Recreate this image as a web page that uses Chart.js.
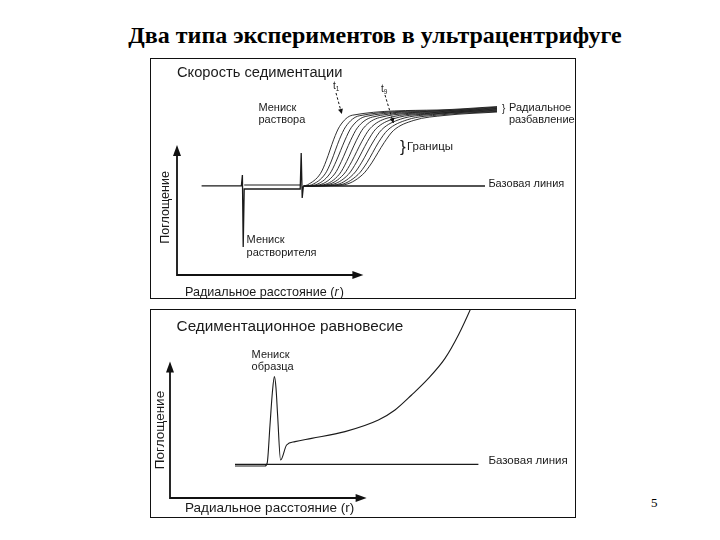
<!DOCTYPE html>
<html lang="ru">
<head>
<meta charset="utf-8">
<title>Два типа экспериментов в ультрацентрифуге</title>
<script src="https://cdn.jsdelivr.net/npm/chart.js@4.4.1/dist/chart.umd.min.js"></script>
<style>
  html, body { margin: 0; padding: 0; background: #fff; }
  body { width: 720px; height: 540px; position: relative; overflow: hidden; }
  #title { position: absolute; left: 0; width: 750px; top: 22px; text-align: center;
           font: bold 24px "Liberation Serif", "Times New Roman", serif; color: #000; }
  #pageNum { position: absolute; left: 651px; top: 495px; font: 13px "Liberation Serif", serif; color: #000; }
  #rateChart { position: absolute; left: 150px; top: 58px; }
  #eqChart { position: absolute; left: 150px; top: 309px; }
</style>
</head>
<body>
<div id="title">Два типа экспериментов в ультрацентрифуге</div>
<canvas id="rateChart" width="426" height="241"></canvas>
<canvas id="eqChart" width="426" height="209"></canvas>
<div id="pageNum">5</div>

<script>
// ---- Скорость седиментации (arbitrary units: radial distance r, absorbance A) ----

// one scan with solvent meniscus and solution meniscus
const scanR = [1.23, 3.22, 3.27, 3.31, 3.36, 6.16, 6.21, 6.26, 6.32];
const scanA = [4.46, 4.47, 5.0, 1.4, 4.30, 4.30, 6.1, 3.85, 4.45];
// second (upper) trace between the menisci
const scanUpperR = [3.36, 6.16];
const scanUpperA = [4.50, 4.50];
// baseline
const rateBaseR = [6.3, 15.4];
const rateBaseA = [4.45, 4.45];

// boundary scans t1 ... t10 (start, rise, plateau with radial dilution)
const boundaryR = [
  [6.35, 6.53, 7.17, 7.46, 7.65, 7.84, 8.13, 8.77, 13.0, 16.0],
  [6.35, 6.73, 7.41, 7.72, 7.92, 8.12, 8.43, 9.11, 13.0, 16.0],
  [6.35, 6.92, 7.64, 7.96, 8.18, 8.40, 8.72, 9.44, 13.0, 16.0],
  [6.35, 7.12, 7.88, 8.22, 8.45, 8.68, 9.02, 9.78, 13.0, 16.0],
  [6.35, 7.32, 8.12, 8.48, 8.72, 8.96, 9.32, 10.12, 13.0, 16.0],
  [6.35, 7.48, 8.34, 8.73, 8.99, 9.25, 9.64, 10.50, 13.0, 16.0],
  [6.35, 7.67, 8.57, 8.98, 9.25, 9.52, 9.93, 10.83, 13.0, 16.0],
  [6.35, 7.87, 8.81, 9.24, 9.52, 9.80, 10.23, 11.17, 13.0, 16.0],
  [6.35, 8.07, 9.05, 9.50, 9.79, 10.08, 10.53, 11.51, 13.2, 16.0],
  [6.35, 8.26, 9.28, 9.74, 10.05, 10.36, 10.82, 11.84, 13.4, 16.0]
];
const boundaryA = [
  [4.45, 4.51, 5.07, 5.71, 6.25, 6.79, 7.43, 7.99, 8.25, 8.42],
  [4.45, 4.51, 5.06, 5.70, 6.24, 6.77, 7.41, 7.96, 8.22, 8.39],
  [4.45, 4.51, 5.06, 5.69, 6.22, 6.75, 7.38, 7.93, 8.19, 8.36],
  [4.45, 4.51, 5.05, 5.68, 6.21, 6.73, 7.36, 7.90, 8.16, 8.33],
  [4.45, 4.51, 5.04, 5.67, 6.19, 6.71, 7.34, 7.87, 8.13, 8.30],
  [4.45, 4.51, 5.04, 5.66, 6.18, 6.69, 7.31, 7.84, 8.10, 8.27],
  [4.45, 4.51, 5.03, 5.65, 6.16, 6.67, 7.29, 7.81, 8.07, 8.24],
  [4.45, 4.50, 5.03, 5.64, 6.15, 6.65, 7.26, 7.79, 8.04, 8.21],
  [4.45, 4.50, 5.02, 5.62, 6.13, 6.64, 7.24, 7.76, 8.01, 8.18],
  [4.45, 4.50, 5.02, 5.61, 6.12, 6.62, 7.22, 7.73, 7.98, 8.15]
];

// ---- Седиментационное равновесие ----
const eqR = [3.25, 4.75, 4.86, 5.0, 5.12, 5.22, 5.30, 5.38, 5.53, 5.83, 6.25, 7.08, 8.75, 10.42, 11.25, 12.08, 12.92, 13.75, 14.42, 15.08, 15.3];
const eqA = [1.60, 1.60, 1.75, 3.65, 5.3, 6.07, 5.5, 4.15, 1.9, 2.65, 2.82, 2.98, 3.32, 3.90, 4.40, 5.15, 5.98, 6.98, 8.15, 9.57, 10.1];
const eqBaseR = [3.25, 15.42];
const eqBaseA = [1.68, 1.68];

// text labels (anchored in data units)
const rateNotes = [
  { text: 'Скорость седиментации', r: 0, a: 10.08, size: 14.7 },
  { text: 'Мениск', r: 4.07, a: 8.33, size: 11 },
  { text: 'раствора', r: 4.07, a: 7.75, size: 11 },
  { text: 'Мениск', r: 3.48, a: 1.75, size: 11 },
  { text: 'растворителя', r: 3.48, a: 1.12, size: 11 },
  { text: 'Базовая линия', r: 15.57, a: 4.55, size: 11 },
  { text: 'Радиальное', r: 16.6, a: 8.33, size: 11 },
  { text: 'разбавление', r: 16.6, a: 7.77, size: 11 },
  { text: '}', r: 16.25, a: 8.28, size: 10 },
  { text: 'Границы', r: 11.5, a: 6.42, size: 11.5 },
  { text: '}', r: 11.15, a: 6.4, size: 17 },
  { text: 'Поглощение', r: -0.57, a: 3.38, size: 12.5, rotate: true },
  { text: 'Радиальное расстояние (', r: 0.4, a: -0.87, size: 12.6, tail: 'r', tailItalic: true, end: ')' },
  { text: 't', r: 7.8, a: 9.42, size: 10, sub: '1' },
  { text: 't', r: 10.2, a: 9.27, size: 10, sub: '9' }
];
const rateArrows = [
  { from: [7.95, 9.1], to: [8.24, 8.05] },
  { from: [10.4, 9.0], to: [10.82, 7.6] }
];

const eqNotes = [
  { text: 'Седиментационное равновесие', r: 0.33, a: 8.57, size: 15.3 },
  { text: 'Мениск', r: 4.08, a: 7.15, size: 11 },
  { text: 'образца', r: 4.08, a: 6.57, size: 11 },
  { text: 'Базовая линия', r: 15.92, a: 1.85, size: 11.5 },
  { text: 'Поглощение', r: -0.5, a: 3.4, size: 13.5, rotate: true },
  { text: 'Радиальное расстояние (r)', r: 0.75, a: -0.52, size: 13.5 }
];

const FONT = '"Liberation Sans", Arial, sans-serif';
const INK = '#1a1a1a';

function line(r, a, width, smooth) {
  return {
    data: r.map((x, i) => ({ x: x, y: a[i] })),
    showLine: true,
    borderColor: INK,
    borderWidth: width,
    pointRadius: 0,
    fill: false,
    tension: 0,
    cubicInterpolationMode: smooth ? 'monotone' : 'default'
  };
}

function arrowHead(ctx, x, y, dx, dy, len, half, filled) {
  const bx = x - dx * len, by = y - dy * len;
  ctx.beginPath();
  ctx.moveTo(bx - dy * half, by + dx * half);
  ctx.lineTo(x, y);
  ctx.lineTo(bx + dy * half, by - dx * half);
  if (filled) { ctx.closePath(); ctx.fill(); } else { ctx.stroke(); }
}

// frame, axes with arrows, labels and dashed pointers
const diagramPlugin = {
  id: 'diagram',
  afterDatasetsDraw(chart, args, o) {
    const ctx = chart.ctx;
    const xs = chart.scales.x, ys = chart.scales.y;
    const P = (r, a) => [xs.getPixelForValue(r), ys.getPixelForValue(a)];
    ctx.save();
    ctx.strokeStyle = '#111';
    ctx.fillStyle = '#111';
    ctx.lineWidth = 1;
    ctx.strokeRect(0.5, 0.5, chart.width - 1, chart.height - 1);

    // axes
    const [ox, oy] = P(0, 0);
    const [tx, ty] = P(0, o.axisA);
    const [rx, ry] = P(o.axisR, 0);
    ctx.lineWidth = 1.8;
    ctx.beginPath();
    ctx.moveTo(tx, ty + 8);
    ctx.lineTo(ox, oy);
    ctx.lineTo(rx - 8, ry);
    ctx.stroke();
    arrowHead(ctx, tx, ty, 0, -1, 11, 4, true);
    arrowHead(ctx, rx, ry, 1, 0, 11, 4, true);

    // dashed pointers
    ctx.lineWidth = 1;
    (o.arrows || []).forEach(ar => {
      const [x1, y1] = P(ar.from[0], ar.from[1]);
      const [x2, y2] = P(ar.to[0], ar.to[1]);
      const d = Math.hypot(x2 - x1, y2 - y1);
      ctx.setLineDash([2.5, 2]);
      ctx.beginPath(); ctx.moveTo(x1, y1); ctx.lineTo(x2, y2); ctx.stroke();
      ctx.setLineDash([]);
      arrowHead(ctx, x2, y2, (x2 - x1) / d, (y2 - y1) / d, 5, 2.5, true);
    });

    // labels
    ctx.fillStyle = INK;
    ctx.textBaseline = 'middle';
    ctx.textAlign = 'left';
    (o.notes || []).forEach(n => {
      const [x, y] = P(n.r, n.a);
      ctx.font = n.size + 'px ' + FONT;
      if (n.rotate) {
        ctx.save();
        ctx.translate(x, y);
        ctx.rotate(-Math.PI / 2);
        ctx.textAlign = 'center';
        ctx.fillText(n.text, 0, 0);
        ctx.restore();
        return;
      }
      ctx.fillText(n.text, x, y);
      let cx = x + ctx.measureText(n.text).width;
      if (n.tail) {
        ctx.font = (n.tailItalic ? 'italic ' : '') + n.size + 'px ' + FONT;
        ctx.fillText(n.tail, cx, y);
        cx += ctx.measureText(n.tail).width + 1;
        ctx.font = n.size + 'px ' + FONT;
        ctx.fillText(n.end, cx, y);
      }
      if (n.sub) {
        ctx.font = (n.size * 0.65) + 'px ' + FONT;
        ctx.fillText(n.sub, cx, y + 3);
      }
    });
    ctx.restore();
  }
};

function makeChart(id, datasets, range, deco) {
  return new Chart(document.getElementById(id), {
    type: 'scatter',
    data: { datasets: datasets },
    options: {
      responsive: false,
      animation: false,
      events: [],
      layout: { padding: 0 },
      scales: {
        x: { type: 'linear', min: range[0], max: range[1], display: false },
        y: { type: 'linear', min: range[2], max: range[3], display: false }
      },
      plugins: {
        legend: { display: false },
        tooltip: { enabled: false },
        diagram: deco
      }
    },
    plugins: [diagramPlugin]
  });
}

const rateSets = [
  line(scanR, scanA, 1.3, false),
  line(scanUpperR, scanUpperA, 1.1, false),
  line(rateBaseR, rateBaseA, 1.3, false)
];
boundaryR.forEach((r, i) => rateSets.push(line(r, boundaryA[i], 0.9, true)));

makeChart('rateChart', rateSets, [-1.35, 19.95, -1.2, 10.85],
  { axisA: 6.5, axisR: 9.32, notes: rateNotes, arrows: rateArrows });

makeChart('eqChart', [
  line(eqBaseR, eqBaseA, 1.3, false),
  line(eqR, eqA, 1.1, true)
], [-1.0, 20.3, -1.0, 9.45],
  { axisA: 6.82, axisR: 9.83, notes: eqNotes, arrows: [] });
</script>
</body>
</html>
